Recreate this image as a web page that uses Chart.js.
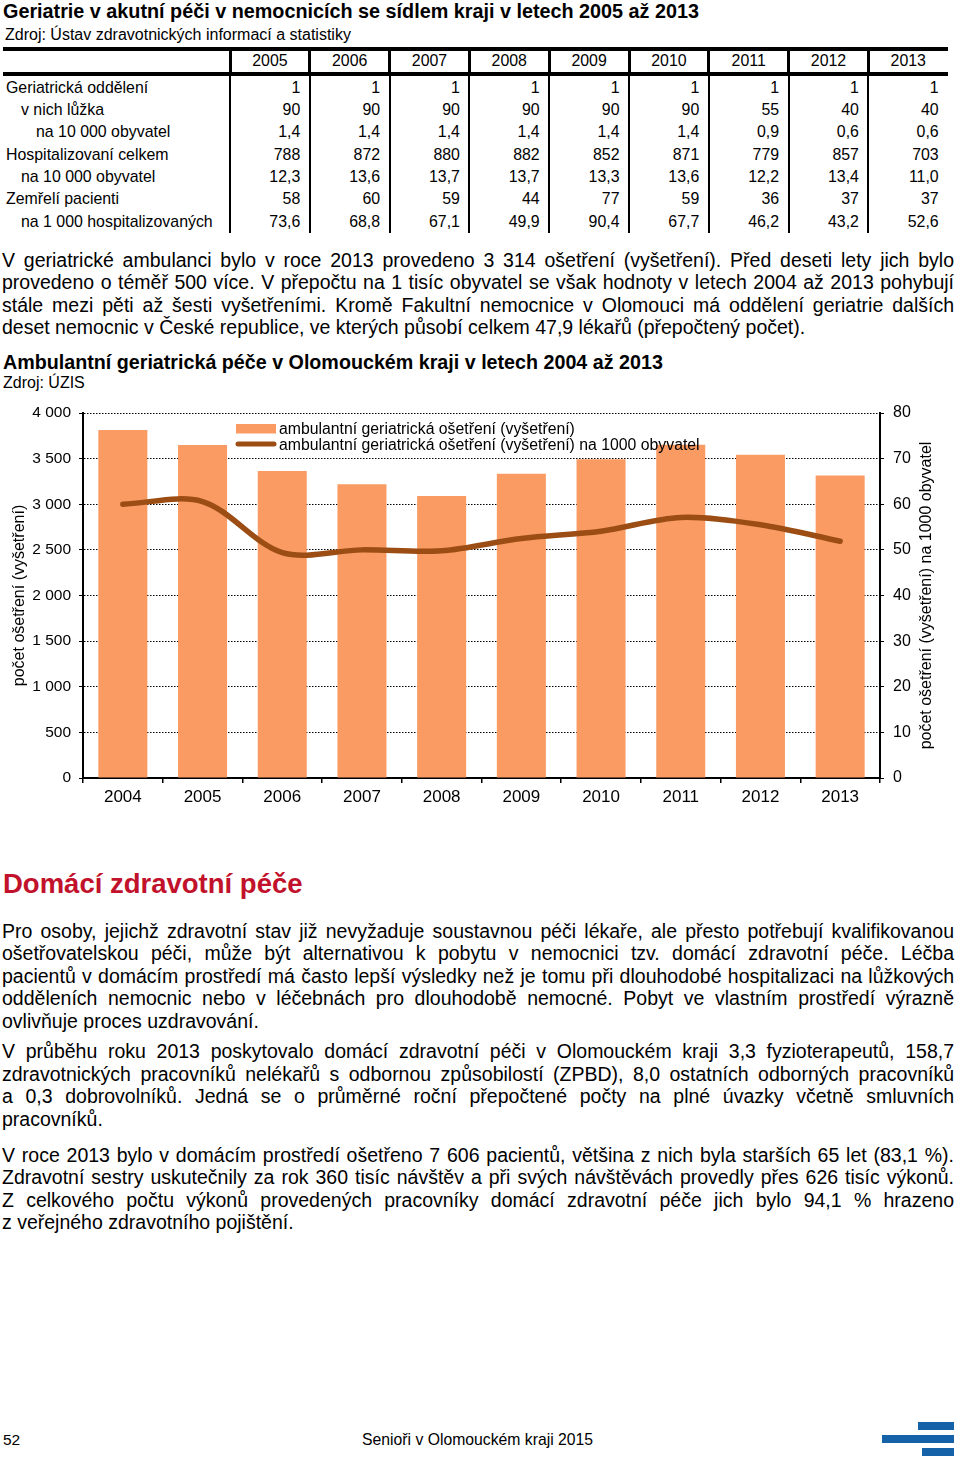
<!DOCTYPE html>
<html lang="cs"><head><meta charset="utf-8">
<script src="https://cdn.jsdelivr.net/npm/chart.js@4/dist/chart.umd.min.js"></script>
<style>
html,body{margin:0;padding:0}
body{width:960px;height:1464px;position:relative;background:#fff;font-family:"Liberation Sans",Arial,sans-serif;color:#000;overflow:hidden}
.t{position:absolute;white-space:nowrap}
.jl{position:absolute;left:2px;width:952px;font-size:19.5px;line-height:22.5px;text-align:justify;text-align-last:justify}
.ll{position:absolute;left:2px;width:952px;font-size:19.5px;line-height:22.5px;text-align:left;white-space:nowrap}
.hl{position:absolute;background:#000}
#chartWrap{position:absolute;left:0;top:400px;width:960px;height:420px}
</style>
</head><body>

<div class="t" style="left:3px;top:-0.4px;font-size:19.8px;line-height:22px;font-weight:bold">Geriatrie v akutní péči v nemocnicích se sídlem kraji v letech 2005 až 2013</div>
<div class="t" style="left:5px;top:26px;font-size:16px;line-height:18px">Zdroj: Ústav zdravotnických informací a statistiky</div>
<div id="table"></div>

<div id="p1"></div>

<div class="t" style="left:3px;top:350.5px;font-size:19.7px;line-height:22px;font-weight:bold">Ambulantní geriatrická péče v Olomouckém kraji v letech 2004 až 2013</div>
<div class="t" style="left:3px;top:373.8px;font-size:16px;line-height:18px">Zdroj: ÚZIS</div>

<div id="chartWrap"><canvas id="c" width="960" height="420"></canvas></div>

<div class="t" style="left:3px;top:868.8px;font-size:27.5px;line-height:30px;font-weight:bold;color:#C1112B">Domácí zdravotní péče</div>
<div id="p2"></div>

<div class="t" style="left:3px;top:1430.5px;font-size:15.5px;line-height:18px">52</div>
<div class="t" style="left:362px;top:1430.5px;font-size:15.75px;line-height:18px">Senioři v Olomouckém kraji 2015</div>
<div class="hl" style="left:918px;top:1422px;width:36px;height:8px;background:#1562A9"></div>
<div class="hl" style="left:882px;top:1435px;width:72px;height:8px;background:#1562A9"></div>
<div class="hl" style="left:922px;top:1448px;width:32px;height:8px;background:#1562A9"></div>

<script>
// ---------- Table data ----------
const tableYears = ['2005','2006','2007','2008','2009','2010','2011','2012','2013'];
const tableRowLabels = ['Geriatrická oddělení','v nich lůžka','na 10 000 obyvatel','Hospitalizovaní celkem','na 10 000 obyvatel','Zemřelí pacienti','na 1 000 hospitalizovaných'];
const tableRowLevel = [0,1,2,0,1,0,1];
const rowDepartments = ['1','1','1','1','1','1','1','1','1'];
const rowBeds = ['90','90','90','90','90','90','55','40','40'];
const rowBedsPer10k = ['1,4','1,4','1,4','1,4','1,4','1,4','0,9','0,6','0,6'];
const rowHospitalized = ['788','872','880','882','852','871','779','857','703'];
const rowHospPer10k = ['12,3','13,6','13,7','13,7','13,3','13,6','12,2','13,4','11,0'];
const rowDeaths = ['58','60','59','44','77','59','36','37','37'];
const rowDeathsPer1000 = ['73,6','68,8','67,1','49,9','90,4','67,7','46,2','43,2','52,6'];
const tableRows = [rowDepartments,rowBeds,rowBedsPer10k,rowHospitalized,rowHospPer10k,rowDeaths,rowDeathsPer1000];

// ---------- Chart data ----------
const chartYears = ['2004','2005','2006','2007','2008','2009','2010','2011','2012','2013'];
const ambulatoryCare = [3814, 3649, 3364, 3218, 3090, 3335, 3492, 3653, 3543, 3314];
const carePer1000 = [60.0, 60.6, 49.4, 50.0, 49.8, 52.5, 54.1, 57.1, 55.5, 51.9];
const barLabel = 'ambulantní geriatrická ošetření (vyšetření)';
const lineLabel = 'ambulantní geriatrická ošetření (vyšetření) na 1000 obyvatel';
const leftAxisTitle = 'počet ošetření (vyšetření)';
const rightAxisTitle = 'počet ošetření (vyšetření) na 1000 obyvatel';

// ---------- Text ----------
const para1 = [
 'V geriatrické ambulanci bylo v roce 2013 provedeno 3 314 ošetření (vyšetření). Před deseti lety jich bylo',
 'provedeno o téměř 500 více. V přepočtu na 1 tisíc obyvatel se však hodnoty v letech 2004 až 2013 pohybují',
 'stále mezi pěti až šesti vyšetřeními. Kromě Fakultní nemocnice v Olomouci má oddělení geriatrie dalších',
 'deset nemocnic v České republice, ve kterých působí celkem 47,9 lékařů (přepočtený počet).'
];
const para2 = [
 'Pro osoby, jejichž zdravotní stav již nevyžaduje soustavnou péči lékaře, ale přesto potřebují kvalifikovanou',
 'ošetřovatelskou péči, může být alternativou k pobytu v nemocnici tzv. domácí zdravotní péče. Léčba',
 'pacientů v domácím prostředí má často lepší výsledky než je tomu při dlouhodobé hospitalizaci na lůžkových',
 'odděleních nemocnic nebo v léčebnách pro dlouhodobě nemocné. Pobyt ve vlastním prostředí výrazně',
 'ovlivňuje proces uzdravování.'
];
const para3 = [
 'V průběhu roku 2013 poskytovalo domácí zdravotní péči v Olomouckém kraji 3,3 fyzioterapeutů, 158,7',
 'zdravotnických pracovníků nelékařů s odbornou způsobilostí (ZPBD), 8,0 ostatních odborných pracovníků',
 'a 0,3 dobrovolníků. Jedná se o průměrné roční přepočtené počty na plné úvazky včetně smluvních',
 'pracovníků.'
];
const para4 = [
 'V roce 2013 bylo v domácím prostředí ošetřeno 7 606 pacientů, většina z nich byla starších 65 let (83,1 %).',
 'Zdravotní sestry uskutečnily za rok 360 tisíc návštěv a při svých návštěvách provedly přes 626 tisíc výkonů.',
 'Z celkového počtu výkonů provedených pracovníky domácí zdravotní péče jich bylo 94,1 % hrazeno',
 'z veřejného zdravotního pojištění.'
];

function addPara(container, lines, top){
  lines.forEach((txt,i)=>{
    const d = document.createElement('div');
    d.className = (i === lines.length-1) ? 'll' : 'jl';
    d.style.top = (top + i*22.5) + 'px';
    d.textContent = txt;
    container.appendChild(d);
  });
}
addPara(document.getElementById('p1'), para1, 248.7);
const p2 = document.getElementById('p2');
addPara(p2, para2, 919.7);
addPara(p2, para3, 1040.3);
addPara(p2, para4, 1143.7);

// ---------- Build table ----------
(function(){
  const tb = document.getElementById('table');
  const colW = 79.8, colX0 = 230;
  const add = (html, style, cls) => { const d=document.createElement('div'); d.className=cls||'t'; d.setAttribute('style', style); if(html!==null) d.textContent=html; tb.appendChild(d); };
  add(null,'left:3px;top:47px;width:945px;height:4px','hl');
  add(null,'left:3px;top:72px;width:945px;height:4px','hl');
  for(let i=0;i<=8;i++){
    const x = colX0 + colW*i;
    add(null,`left:${x-1.5}px;top:50px;width:3px;height:22px`,'hl');
    add(null,`left:${x-1}px;top:76px;width:2px;height:157px`,'hl');
  }
  const indent = [6, 21, 36];
  const fs = 'font-size:15.9px;line-height:18px';
  tableYears.forEach((y,i)=>{
    add(y, `left:${colX0+colW*i}px;width:${colW}px;text-align:center;top:52px;${fs}`);
  });
  tableRowLabels.forEach((lab,r)=>{
    const top = 92.7 + 22.33*r - 14.0;
    add(lab, `left:${indent[tableRowLevel[r]]}px;top:${top}px;${fs}`);
    tableRows[r].forEach((v,i)=>{
      add(v, `left:${colX0+colW*i}px;width:${colW-9.5}px;text-align:right;top:${top}px;${fs}`);
    });
  });
})();

// ---------- Chart ----------
const BAR_COLOR = '#F99B63';
const LINE_COLOR = '#9C4D13';
Chart.defaults.font.family = '"Liberation Sans", Arial, sans-serif';
Chart.defaults.color = '#000';

function fmtThousands(v){
  if (v >= 1000) return Math.floor(v/1000) + ' ' + String(v % 1000).padStart(3,'0');
  return String(v);
}

const overlayPlugin = {
  id: 'overlay',
  afterDatasetsDraw(chart){
    const ctx = chart.ctx;
    ctx.save();
    // legend
    ctx.fillStyle = BAR_COLOR;
    ctx.fillRect(236, 24, 40, 9.5);
    ctx.strokeStyle = LINE_COLOR;
    ctx.lineWidth = 5;
    ctx.lineCap = 'round';
    ctx.beginPath(); ctx.moveTo(238, 44); ctx.lineTo(274, 44); ctx.stroke();
    ctx.fillStyle = '#000';
    ctx.font = '15.8px "Liberation Sans", Arial, sans-serif';
    ctx.textBaseline = 'alphabetic';
    ctx.textAlign = 'left';
    const bar = chart.data.datasets.find(d => d.type === 'bar');
    const line = chart.data.datasets.find(d => d.type === 'line');
    ctx.fillText(bar.label, 279, 33.5);
    ctx.fillText(line.label, 279, 50);
    // right axis title (reads bottom-to-top)
    const ca = chart.chartArea;
    ctx.translate(927, (ca.top + ca.bottom)/2);
    ctx.rotate(-Math.PI/2);
    ctx.textAlign = 'center';
    ctx.textBaseline = 'middle';
    ctx.font = '16px "Liberation Sans", Arial, sans-serif';
    ctx.fillText(rightAxisTitle, 0, 0);
    ctx.restore();
  }
};

new Chart(document.getElementById('c').getContext('2d'), {
  type: 'bar',
  data: {
    labels: chartYears,
    datasets: [
      { type: 'line', label: lineLabel, data: carePer1000, yAxisID: 'y1',
        borderColor: LINE_COLOR, borderWidth: 5.5, pointRadius: 0, pointHoverRadius: 0,
        tension: 0.32, fill: false, order: 0, borderCapStyle: 'round' },
      { type: 'bar', label: barLabel, data: ambulatoryCare, yAxisID: 'y',
        backgroundColor: BAR_COLOR, borderWidth: 0, categoryPercentage: 1, barPercentage: 0.615, order: 1 }
    ]
  },
  options: {
    responsive: false,
    animation: false,
    layout: { padding: { top: 13, left: 0, right: 0, bottom: 0 } },
    plugins: { legend: { display: false }, tooltip: { enabled: false } },
    scales: {
      x: {
        position: 'bottom', offset: true,
        grid: { display: true, drawOnChartArea: false, drawTicks: true, tickLength: 5, color: '#000', offset: true, lineWidth: 1.5 },
        border: { color: '#000', width: 2 },
        ticks: { color: '#000', font: { size: 17 }, padding: 4, maxRotation: 0, autoSkip: false },
        afterFit(s){ s.height = 42; s.paddingLeft = 0; s.paddingRight = 0; }
      },
      y: {
        position: 'left', min: 0, max: 4000,
        ticks: { stepSize: 500, color: '#000', font: { size: 15.5 }, padding: 8, callback: v => fmtThousands(v) },
        grid: { color: '#000', lineWidth: 1, tickLength: 4, tickColor: '#000', drawTicks: true },
        border: { color: '#000', width: 2, dash: [1.5, 1.5] },
        title: { display: true, text: leftAxisTitle, color: '#000', font: { size: 16 }, padding: { top: 10.4, bottom: 0 } },
        afterFit(s){ s.width = 83; s.paddingTop = 0; s.paddingBottom = 0; }
      },
      y1: {
        position: 'right', min: 0, max: 80,
        ticks: { stepSize: 10, color: '#000', font: { size: 16 }, padding: 9 },
        grid: { drawOnChartArea: false, tickLength: 4, color: '#000' },
        border: { color: '#000', width: 2 },
        afterFit(s){ s.width = 80; s.paddingTop = 0; s.paddingBottom = 0; }
      }
    }
  },
  plugins: [overlayPlugin]
});
</script>
</body></html>
